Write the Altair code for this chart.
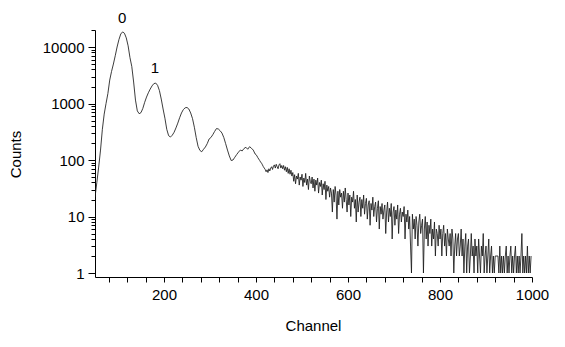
import altair as alt
import pandas as pd

# channel positions: every 4 channels on the smooth part, every 2 on the noisy tail
channels = list(range(50, 400, 4)) + list(range(400, 1000, 2))

counts_head = [
    22, 40, 75, 150, 350, 650, 1000, 1500, 2600, 3700,            # 50-86
    5000, 7000, 10000, 13500, 17000, 18500, 17500, 14500, 10500, 6500,  # 90-126
    4500, 2400, 1150, 740, 660, 690, 820, 1050, 1300, 1550,      # 130-166
    1800, 2050, 2250, 2300, 2100, 1700, 1200, 800, 550, 350,     # 170-206
    270, 255, 275, 310, 370, 450, 560, 680, 780, 840,            # 210-246
    850, 800, 680, 540, 380, 250, 175, 148, 140, 155,            # 250-286
    170, 195, 235, 250, 280, 320, 360, 355, 330, 300,            # 290-326
    250, 195, 150, 118, 98, 100, 112, 125, 138, 150,             # 330-366
    145, 160, 168, 155, 172, 162, 150, 128,                      # 370-398
]

counts_tail = [
    125, 118, 110, 104, 98, 92, 88, 82, 76, 72,      # 400-418
    68, 62, 67, 60, 70, 64, 72, 76, 68, 78,          # 420-438
    82, 72, 84, 76, 70, 82, 86, 72, 80, 70,          # 440-458
    80, 66, 76, 62, 74, 58, 70, 56, 66, 52,          # 460-478
    60, 42, 55, 38, 52, 46, 58, 36, 50, 44,          # 480-498
    56, 34, 48, 40, 58, 36, 46, 30, 52, 42,          # 500-518
    38, 50, 32, 46, 28, 44, 36, 48, 26, 40,          # 520-538
    34, 44, 24, 38, 30, 42, 20, 36, 28, 34,          # 540-558
    22, 32, 26, 12, 30, 18, 34, 24, 9, 28,           # 560-578
    16, 30, 22, 26, 14, 28, 18, 32, 20, 12,          # 580-598
    26, 16, 24, 10, 22, 18, 28, 14, 20, 8,           # 600-618
    24, 12, 18, 22, 10, 20, 14, 24, 11, 17,          # 620-638
    21, 9, 16, 19, 7, 17, 13, 22, 10, 15,            # 640-658
    18, 8, 14, 19, 6, 15, 11, 17, 9, 13,             # 660-678
    16, 5, 12, 18, 8, 14, 10, 17, 4, 12,             # 680-698
    15, 7, 13, 9, 16, 5, 11, 14, 8, 12,              # 700-718
    10, 15, 4, 11, 8, 13, 6, 10, 3, 1,               # 720-738
    11, 6, 9, 4, 10, 7, 3, 8, 11, 5,                 # 740-758
    7, 9, 1, 6, 10, 4, 8, 3, 7, 5,                   # 760-778
    9, 3, 6, 4, 8, 2, 6, 5, 3, 7,                    # 780-798
    4, 6, 2, 5, 7, 3, 5, 2, 6, 4,                    # 800-818
    3, 5, 2, 6, 4, 1, 3, 5, 2, 4,                    # 820-838
    5, 2, 3, 6, 2, 4, 1, 3, 5, 1,                    # 840-858
    3, 4, 1, 2, 5, 2, 3, 1, 4, 2,                    # 860-878
    3, 1, 4, 2, 1, 3, 2, 5, 1, 2,                    # 880-898
    3, 1, 2, 4, 1, 2, 3, 1, 2, 1,                    # 900-918
    2, 2, 2, 2, 1, 3, 1, 2, 1, 2,                    # 920-938
    1, 2, 3, 1, 2, 1, 2, 3, 1, 2,                    # 940-958
    1, 2, 3, 1, 2, 1, 2, 1, 2, 5,                    # 960-978
    1, 2, 1, 2, 1, 3, 1, 2, 1, 2,                    # 980-998
]
counts = counts_head + counts_tail

peak_labels = ["0", "1"]
peak_x = [109, 180]
peak_y = [32500, 4300]

x_ticks = list(range(80, 1001, 40))
y_ticks = [m * 10 ** e for e in range(0, 5) for m in range(1, 10)] + [20000]

df = pd.DataFrame({"Channel": channels, "Counts": counts})
lab = pd.DataFrame({"label": peak_labels, "x": peak_x, "y": peak_y})

FONT = "Liberation Sans"
is_major = "abs(log(datum.value)/LN10 - round(log(datum.value)/LN10)) < 0.001"

x_scale = alt.Scale(domain=[50, 1000], nice=False, zero=False)
y_scale = alt.Scale(type="log", domain=[0.85, 20000], nice=False)

line = alt.Chart(df).mark_line(color="#1a1a1a", strokeWidth=0.85, clip=True).encode(
    x=alt.X("Channel:Q", scale=x_scale, axis=alt.Axis(
        values=x_ticks, tickCount=500,
        labelExpr="datum.value % 200 == 0 ? datum.label : ''",
        labelOverlap=False, labelFlush=False, format="d",
        tickSize=5, tickColor="black", domainColor="black", grid=False,
        labelFont=FONT, labelFontSize=15, labelColor="black", labelPadding=5,
        title="Channel", titleFont=FONT, titleFontSize=15, titleFontWeight="normal",
        titleColor="black", titleX=218, titleY=48, titleBaseline="middle", titleAlign="center")),
    y=alt.Y("Counts:Q", scale=y_scale, axis=alt.Axis(
        values=y_ticks, tickCount=500,
        labelExpr=is_major + " ? format(datum.value, 'd') : ''",
        labelOverlap=False, labelFlush=False,
        tickSize={"condition": {"test": is_major, "value": 7}, "value": 4},
        tickColor="black", domainColor="black", grid=False,
        labelFont=FONT, labelFontSize=15, labelColor="black", labelPadding=4,
        title="Counts", titleFont=FONT, titleFontSize=15, titleFontWeight="normal",
        titleColor="black", titleX=-80, titleY=124, titleAngle=-90,
        titleBaseline="middle", titleAlign="center")),
)

text = alt.Chart(lab).mark_text(font=FONT, fontSize=15, color="black", baseline="middle").encode(
    x=alt.X("x:Q", scale=x_scale),
    y=alt.Y("y:Q", scale=y_scale),
    text="label:N",
)

chart = (line + text).properties(
    width=437, height=247,
    padding={"left": 87, "top": 22, "right": 20, "bottom": 62},
    autosize=alt.AutoSizeParams(type="none"),
).configure_view(stroke=None)

chart.save("out.html", embed_options={"renderer": "svg", "actions": False})
